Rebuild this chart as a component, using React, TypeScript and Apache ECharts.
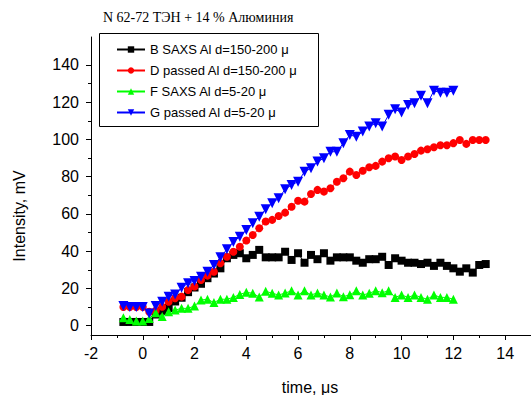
import React, { useEffect, useRef } from "react";
import * as echarts from "echarts";

const times = [-0.75, -0.5, -0.25, 0, 0.25, 0.5, 0.75, 1, 1.25, 1.5, 1.75, 2, 2.25, 2.5, 2.75, 3, 3.25, 3.5, 3.75, 4, 4.25, 4.5, 4.75, 5, 5.25, 5.5, 5.75, 6, 6.25, 6.5, 6.75, 7, 7.25, 7.5, 7.75, 8, 8.25, 8.5, 8.75, 9, 9.25, 9.5, 9.75, 10, 10.25, 10.5, 10.75, 11, 11.25, 11.5, 11.75, 12, 12.25, 12.5, 12.75, 13, 13.25];

const seriesB = [2, 2, 2, 2, 2, 6, 8, 9.5, 13, 15, 18, 20.5, 22.5, 25.5, 28, 30.8, 36.2, 38, 38.9, 36.2, 38, 40.7, 36.7, 36.7, 36.7, 39.7, 35.3, 38.9, 33.8, 38, 35.7, 38.9, 34.9, 36.7, 36.7, 36.7, 34.9, 33.8, 35.7, 35.7, 37, 32.6, 36.2, 34.9, 33.8, 33.8, 33.1, 33.8, 32.1, 33.8, 32.1, 30.8, 29, 30.8, 28.5, 32.6, 33.1];

const seriesD = [10, 10, 10, 10, 7.5, 8, 10.2, 12.9, 14.7, 15.6, 19.2, 21, 24.5, 26.9, 29, 33.5, 37, 39.7, 42.4, 45.7, 48.7, 52.3, 55.9, 56.8, 58.9, 60.7, 63.9, 67.1, 66.6, 70.7, 72.9, 72, 73.8, 77.3, 79.2, 82.7, 80.9, 83.2, 85.1, 85.8, 88.1, 89.9, 90.8, 89, 90.8, 92.2, 94, 94.7, 95.8, 96.9, 96.9, 98, 99.7, 97.6, 99.7, 99.7, 99.7];

const seriesF = [4.3, 3.3, 2.5, 2.5, 3.8, 7, 5, 7.5, 8.4, 9.3, 9.3, 10.6, 13.8, 14.2, 12.4, 14.2, 14.2, 15.2, 16.8, 17.9, 17.4, 15.4, 18.5, 17.4, 16.5, 17.5, 18.7, 16.5, 18.7, 16.5, 17.6, 16.5, 15.4, 17.5, 15.6, 16.6, 18.7, 16.5, 17.4, 18.8, 17.7, 18.8, 15.2, 16.5, 15.2, 16.5, 15.2, 14.2, 16.5, 15.2, 15.2, 14.2];

const seriesG = [10.6, 10, 10, 10, 6.6, 10.6, 12.9, 15.6, 16.8, 20.4, 22.8, 24, 26.3, 29, 32.6, 36.7, 41, 45, 47.8, 51.4, 55, 58.5, 62.5, 65.7, 68.4, 73.2, 75.6, 77.3, 82.7, 84.5, 88.1, 89.9, 93.4, 93.4, 98, 102.4, 101.5, 104.2, 106.9, 108.7, 106.9, 113.2, 116.2, 114.4, 118.5, 119.4, 123.4, 119.4, 126.2, 125.1, 125.1, 126.2];

const seriesNames = [
  "B SAXS Al d=150-200 μ",
  "D passed Al d=150-200 μ",
  "F SAXS Al d=5-20 μ",
  "G passed Al d=5-20 μ",
];

const xMajorTicks = [-2, 0, 2, 4, 6, 8, 10, 12, 14];
const xMinorTicks = [-1, 1, 3, 5, 7, 9, 11, 13, 15];
const yMajorTicks = [0, 20, 40, 60, 80, 100, 120, 140];
const yMinorTicks = [10, 30, 50, 70, 90, 110, 130];

const chartTitle = "N 62-72 ТЭН + 14 % Алюминия";
const xTitle = "time, μs";
const yTitle = "Intensity, mV";

const zip = (xs: number[], ys: number[]) => ys.map((y, i) => [xs[i], y]);

export default function App() {
  const ref = useRef<HTMLDivElement>(null);
  useEffect(() => {
    if (!ref.current) return;
    const chart = echarts.init(ref.current, undefined, { renderer: "svg" });
    const labelFont = { fontFamily: "Liberation Sans", fontSize: 16, color: "#000" };
    const mkSeries = (name: string, vals: number[], color: string, symbol: string, size: number, rotate = 0) => ({
      type: "line",
      name,
      data: zip(times, vals),
      symbol,
      symbolSize: size,
      symbolRotate: rotate,
      showSymbol: true,
      showAllSymbol: true,
      itemStyle: { color },
      lineStyle: { color, width: 1 },
      xAxisIndex: 0,
      yAxisIndex: 0,
    });
    chart.setOption({
      animation: false,
      backgroundColor: "#fff",
      grid: { left: 91, top: 37, right: -2, bottom: 60, containLabel: false },
      xAxis: [
        {
          type: "value",
          min: -2,
          max: 15,
          position: "bottom",
          axisLine: { show: true, onZero: false, lineStyle: { color: "#000", width: 1 } },
          axisTick: { show: true, inside: false, length: 5, customValues: xMajorTicks, lineStyle: { color: "#000" } },
          axisLabel: { customValues: xMajorTicks, margin: 10, ...labelFont },
          splitLine: { show: false },
        },
        {
          type: "value",
          min: -2,
          max: 15,
          position: "bottom",
          axisLine: { show: false, onZero: false },
          axisTick: { show: true, inside: false, length: 3, customValues: xMinorTicks, lineStyle: { color: "#000" } },
          axisLabel: { show: false },
          splitLine: { show: false },
        },
      ],
      yAxis: [
        {
          type: "value",
          min: -5,
          max: 155,
          position: "left",
          axisLine: { show: true, onZero: false, lineStyle: { color: "#000", width: 1 } },
          axisTick: { show: true, inside: false, length: 5, customValues: yMajorTicks, lineStyle: { color: "#000" } },
          axisLabel: { customValues: yMajorTicks, margin: 12, ...labelFont },
          splitLine: { show: false },
        },
        {
          type: "value",
          min: -5,
          max: 155,
          position: "left",
          axisLine: { show: false, onZero: false },
          axisTick: { show: true, inside: false, length: 3, customValues: yMinorTicks, lineStyle: { color: "#000" } },
          axisLabel: { show: false },
          splitLine: { show: false },
        },
      ],
      legend: {
        orient: "vertical",
        left: 116,
        top: 42,
        padding: 0,
        itemWidth: 28,
        itemHeight: 8,
        itemGap: 6,
        selectedMode: false,
        textStyle: { fontFamily: "Liberation Sans", fontSize: 13, color: "#000", lineHeight: 15 },
        data: seriesNames,
      },
      graphic: [
        {
          type: "rect",
          shape: { x: 99.5, y: 33.5, width: 219, height: 93 },
          style: { fill: "none", stroke: "#000", lineWidth: 1 },
          z: 1,
        },
        {
          type: "text",
          x: 103,
          y: 17,
          style: { text: chartTitle, font: '14px "Liberation Serif"', fill: "#000", align: "left", verticalAlign: "middle" },
        },
        {
          type: "text",
          x: 310,
          y: 387,
          style: { text: xTitle, font: '16px "Liberation Sans"', fill: "#000", align: "center", verticalAlign: "middle" },
        },
        {
          type: "text",
          x: 19,
          y: 216,
          rotation: Math.PI / 2,
          style: { text: yTitle, font: '16px "Liberation Sans"', fill: "#000", align: "center", verticalAlign: "middle" },
        },
      ],
      series: [
        mkSeries(seriesNames[0], seriesB, "#000000", "rect", 8),
        mkSeries(seriesNames[1], seriesD, "#ff0000", "circle", 8),
        mkSeries(seriesNames[2], seriesF, "#00ff00", "triangle", 9),
        mkSeries(seriesNames[3], seriesG, "#0000ff", "triangle", 10, 180),
      ],
    });
    return () => chart.dispose();
  }, []);
  return <div ref={ref} style={{ position: "absolute", left: 0, top: 0, width: 531, height: 395 }} />;
}
